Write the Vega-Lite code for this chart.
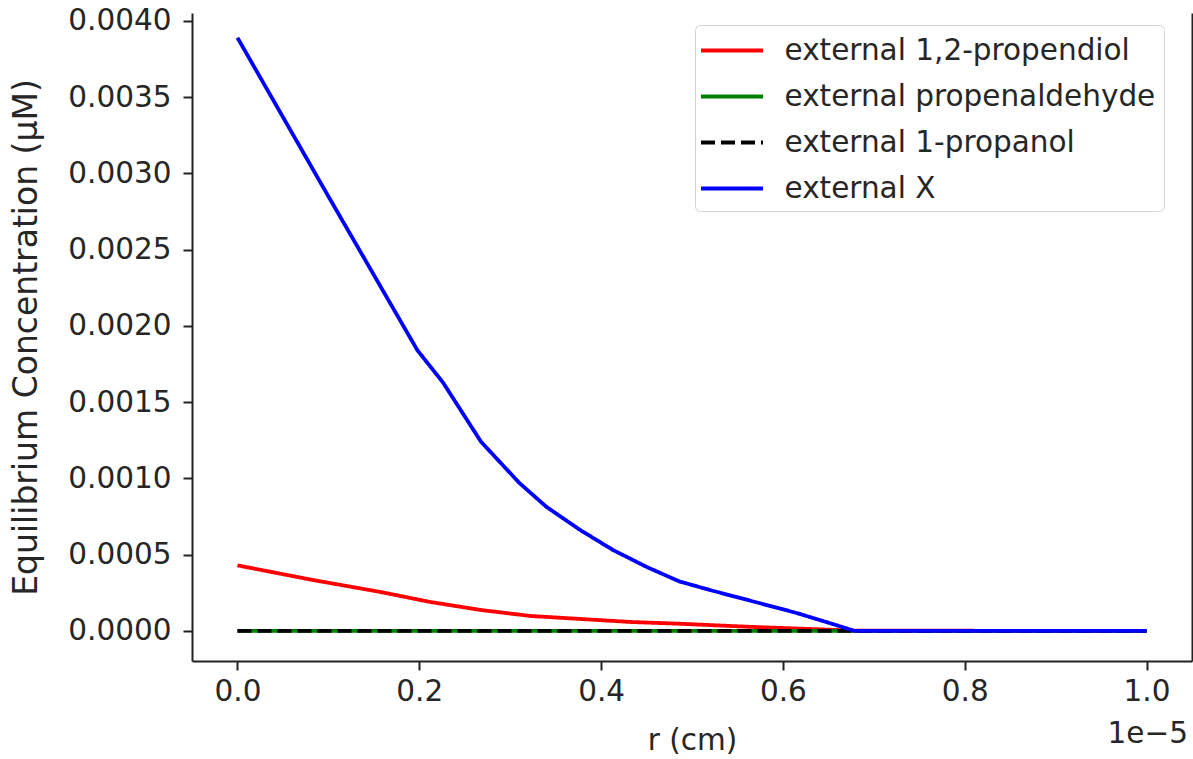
{
  "$schema": "https://vega.github.io/schema/vega-lite/v6.json",
  "width": 1000,
  "height": 648,
  "autosize": "none",
  "padding": {"left": 192, "top": 13, "right": 1, "bottom": 98},
  "background": "white",
  "config": {
    "font": "DejaVu Sans",
    "view": {"stroke": null},
    "axis": {"grid": false, "domainColor": "#222222", "tickColor": "#222222", "labelColor": "#262626", "titleColor": "#262626", "domainWidth": 2, "tickWidth": 2, "tickSize": 9, "labelFontSize": 29.5, "titleFontSize": 29.5, "titleFontWeight": "normal"}
  },
  "title": {"text": "1e\u22125", "orient": "bottom", "anchor": "end", "frame": "group", "fontSize": 29.5, "fontWeight": "normal", "color": "#262626", "dy": -39, "dx": -4},
  "data": {
    "values": [
      {"r": 0, "c": 0.00043, "series": "external 1,2-propendiol"},
      {"r": 8.3e-7, "c": 0.000334, "series": "external 1,2-propendiol"},
      {"r": 1.57e-6, "c": 0.000256, "series": "external 1,2-propendiol"},
      {"r": 2.12e-6, "c": 0.00019, "series": "external 1,2-propendiol"},
      {"r": 2.67e-6, "c": 0.000138, "series": "external 1,2-propendiol"},
      {"r": 3.22e-6, "c": 0.0000984, "series": "external 1,2-propendiol"},
      {"r": 3.77e-6, "c": 0.0000787, "series": "external 1,2-propendiol"},
      {"r": 4.32e-6, "c": 0.000059, "series": "external 1,2-propendiol"},
      {"r": 4.86e-6, "c": 0.0000475, "series": "external 1,2-propendiol"},
      {"r": 5.6e-6, "c": 0.000028, "series": "external 1,2-propendiol"},
      {"r": 6.2e-6, "c": 0.000015, "series": "external 1,2-propendiol"},
      {"r": 6.8e-6, "c": 0.000002, "series": "external 1,2-propendiol"},
      {"r": 1e-5, "c": 0, "series": "external 1,2-propendiol"},
      {"r": 0, "c": 0, "series": "external propenaldehyde"},
      {"r": 1e-5, "c": 0, "series": "external propenaldehyde"},
      {"r": 0, "c": 0, "series": "external 1-propanol"},
      {"r": 1e-5, "c": 0, "series": "external 1-propanol"},
      {"r": 0, "c": 0.00389, "series": "external X"},
      {"r": 1.0e-6, "c": 0.00285, "series": "external X"},
      {"r": 1.98e-6, "c": 0.00184, "series": "external X"},
      {"r": 2.26e-6, "c": 0.00163, "series": "external X"},
      {"r": 2.68e-6, "c": 0.00124, "series": "external X"},
      {"r": 3.1e-6, "c": 0.000971, "series": "external X"},
      {"r": 3.4e-6, "c": 0.000813, "series": "external X"},
      {"r": 3.77e-6, "c": 0.000662, "series": "external X"},
      {"r": 4.13e-6, "c": 0.000531, "series": "external X"},
      {"r": 4.5e-6, "c": 0.00042, "series": "external X"},
      {"r": 4.86e-6, "c": 0.000325, "series": "external X"},
      {"r": 5.2e-6, "c": 0.000268, "series": "external X"},
      {"r": 5.6e-6, "c": 0.000205, "series": "external X"},
      {"r": 6.15e-6, "c": 0.000118, "series": "external X"},
      {"r": 6.51e-6, "c": 0.0000525, "series": "external X"},
      {"r": 6.79e-6, "c": 0, "series": "external X"},
      {"r": 1e-5, "c": 0, "series": "external X"}
    ]
  },
  "layer": [
    {
      "mark": {"type": "line", "strokeWidth": 3.8, "clip": true},
      "encoding": {
        "x": {"field": "r", "type": "quantitative", "scale": {"domain": [-5e-7, 1.05e-5], "nice": false, "zero": false},
          "axis": {"values": [0, 2e-6, 4e-6, 6e-6, 8e-6, 1e-5], "labelExpr": "format(datum.value * 100000, '.1f')", "title": "r (cm)", "labelPadding": 7, "titlePadding": 21, "labelFlush": false}},
        "y": {"field": "c", "type": "quantitative", "scale": {"domain": [-0.000197, 0.004052], "nice": false, "zero": false},
          "axis": {"values": [0, 0.0005, 0.001, 0.0015, 0.002, 0.0025, 0.003, 0.0035, 0.004], "format": ".4f", "title": "Equilibrium Concentration (\u03bcM)", "titleFontSize": 33, "labelPadding": 12, "titlePadding": 24, "labelFlush": false}},
        "color": {"field": "series", "type": "nominal", "sort": null,
          "scale": {"domain": ["external 1,2-propendiol", "external propenaldehyde", "external 1-propanol", "external X"], "range": ["#ff0000", "#008000", "#000000", "#0000ff"]},
          "legend": {"title": null, "orient": "none", "legendX": 503, "legendY": 12, "symbolType": "M-2,0H2", "symbolSize": 961, "symbolStrokeWidth": 3.8, "symbolOffset": 11.5, "labelFontSize": 29.5, "labelColor": "#262626", "labelOffset": 35, "padding": 8, "rowPadding": 14, "strokeColor": "#d4d4d4", "fillColor": "white", "cornerRadius": 5, "labelLimit": 600}},
        "strokeDash": {"field": "series", "type": "nominal", "sort": null,
          "scale": {"domain": ["external 1,2-propendiol", "external propenaldehyde", "external 1-propanol", "external X"], "range": [[1, 0], [1, 0], [14, 6], [1, 0]]},
          "legend": {"title": null, "orient": "none", "legendX": 503, "legendY": 12, "symbolType": "M-2,0H2", "symbolSize": 961, "symbolStrokeWidth": 3.8, "symbolOffset": 11.5, "labelFontSize": 29.5, "labelColor": "#262626", "labelOffset": 35, "padding": 8, "rowPadding": 14, "strokeColor": "#d4d4d4", "fillColor": "white", "cornerRadius": 5, "labelLimit": 600}}
      }
    },
    {
      "mark": {"type": "line", "strokeOpacity": 0},
      "encoding": {
        "x": {"field": "r", "type": "quantitative"},
        "y": {"field": "c", "type": "quantitative", "axis": {"orient": "right", "labels": false, "ticks": false, "title": null, "domain": true}}
      }
    }
  ],
  "resolve": {"axis": {"y": "independent"}}
}
